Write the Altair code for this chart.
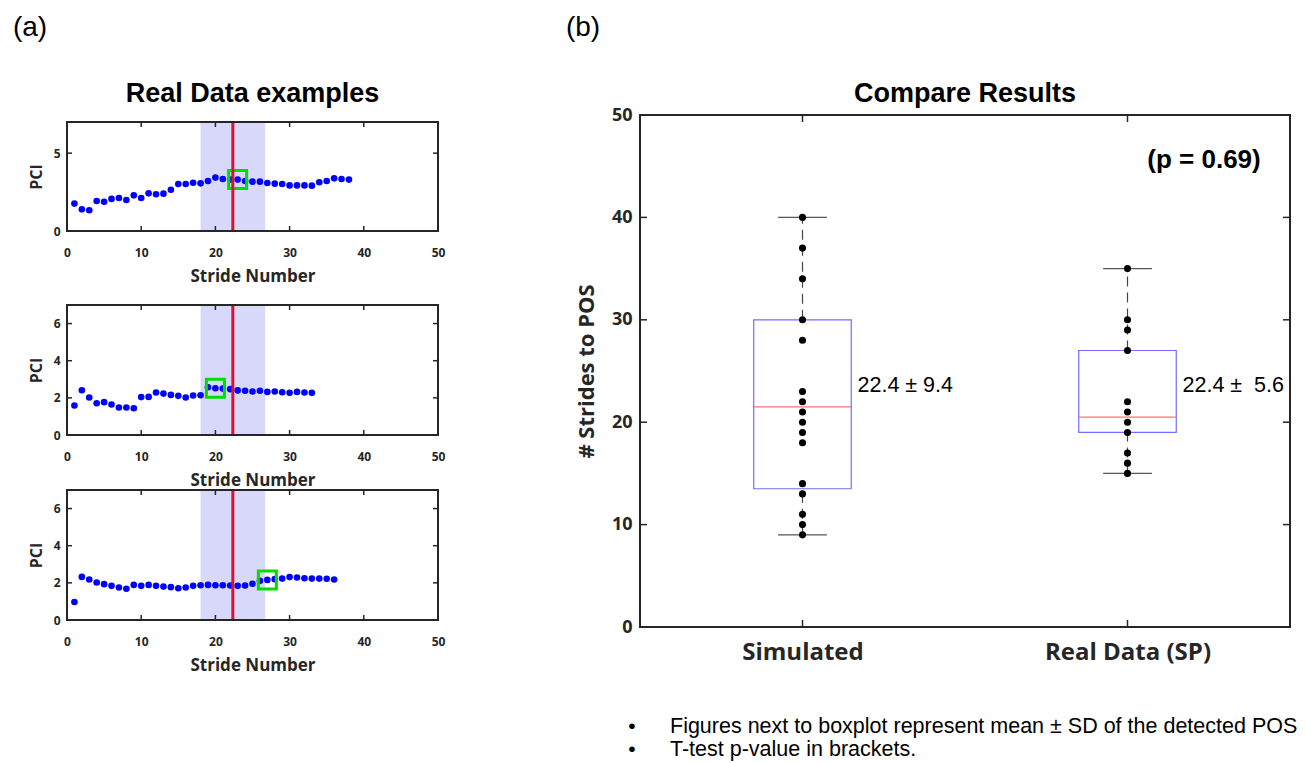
import altair as alt
import pandas as pd

# ---------------- data: (a) Real Data examples ----------------
pci_1 = [1.76, 1.39, 1.33, 1.93, 1.88, 2.06, 2.12, 1.99, 2.29, 2.12, 2.42, 2.36, 2.40,
         2.65, 3.02, 3.02, 3.10, 3.06, 3.21, 3.43, 3.34, 3.30, 3.30, 3.21, 3.17, 3.17,
         3.08, 3.04, 3.02, 2.93, 2.93, 2.93, 2.91, 3.13, 3.21, 3.38, 3.34, 3.30]
pci_2 = [1.59, 2.41, 2.02, 1.71, 1.77, 1.64, 1.48, 1.48, 1.44, 2.04, 2.05, 2.29, 2.23,
         2.16, 2.11, 2.02, 2.13, 2.14, 2.57, 2.52, 2.50, 2.47, 2.40, 2.38, 2.34, 2.38,
         2.32, 2.34, 2.30, 2.27, 2.32, 2.29, 2.27]
pci_3 = [0.97, 2.32, 2.18, 2.02, 1.93, 1.84, 1.75, 1.68, 1.89, 1.84, 1.89, 1.84, 1.80,
         1.77, 1.71, 1.75, 1.84, 1.87, 1.89, 1.87, 1.87, 1.86, 1.84, 1.86, 1.95, 2.11,
         2.16, 2.20, 2.23, 2.31, 2.29, 2.25, 2.23, 2.23, 2.22, 2.18]
pos_stride = [23, 20, 27]
pos_pci = [3.30, 2.52, 2.16]
band_start = 18.0
band_end = 26.7
ref_line = 22.35
x_ticks_left = [0, 10, 20, 30, 40, 50]
y_ticks_panels = [[0, 5], [0, 2, 4, 6], [0, 2, 4, 6]]
x_domain_left = [0, 50]
y_domain_left = [0, 7]

# ---------------- data: (b) Compare Results ----------------
groups = ["Simulated", "Real Data (SP)"]
sim_values = [40, 37, 34, 30, 28, 23, 22, 21, 20, 19, 18, 14, 13, 11, 10, 9]
real_values = [35, 30, 29, 27, 22, 21, 20, 19, 17, 16, 15]
q1 = [13.5, 19]
median = [21.5, 20.5]
q3 = [30, 27]
whisk_lo = [9, 15]
whisk_hi = [40, 35]
means = [22.4, 22.4]
stat_labels = ["22.4 ± 9.4", "22.4 ±\u00a0 5.6"]
y_ticks_right = [0, 10, 20, 30, 40, 50]
y_domain_right = [0, 50]
x_domain_right = [0.5, 2.5]
p_text = "(p = 0.69)"
notes = ["Figures next to boxplot represent mean ± SD of the detected POS",
         "T-test p-value in brackets."]

# ---------------- styles ----------------
AX = "#262626"
BOLD = "Open Sans"
ARIAL = "Liberation Sans"
LEFT_W = 371
RIGHT_W = 650
RIGHT_H = 512


def tick_rules(xt, yt, xd, yd, tx, ty):
    rows = []
    for v in xt:
        rows.append(dict(x=v, x2=v, y=yd[0], y2=yd[0] + ty))
        rows.append(dict(x=v, x2=v, y=yd[1], y2=yd[1] - ty))
    for v in yt:
        rows.append(dict(x=xd[0], x2=xd[0] + tx, y=v, y2=v))
        rows.append(dict(x=xd[1], x2=xd[1] - tx, y=v, y2=v))
    return pd.DataFrame(rows)


def text_layer(txt, x, y, size, weight="normal", align="center", baseline="middle",
               font=ARIAL, color="black"):
    return alt.Chart(pd.DataFrame({"t": [txt]})).mark_text(
        font=font, fontSize=size, fontWeight=weight, align=align, baseline=baseline,
        color=color).encode(text="t:N", x=alt.value(x), y=alt.value(y))


def make_panel(i, pci, height, yrange, xoff, title=None, tag=None):
    if yrange is None:
        ys = alt.Scale(domain=y_domain_left, nice=False, zero=False)
        ftop, fbot = 0, height
    else:
        ys = alt.Scale(domain=y_domain_left, nice=False, zero=False, range=yrange)
        ftop, fbot = yrange[1], yrange[0]
    xs = alt.Scale(domain=x_domain_left, nice=False, zero=False)
    px_per_y = (fbot - ftop) / (y_domain_left[1] - y_domain_left[0])
    px_per_x = LEFT_W / (x_domain_left[1] - x_domain_left[0])

    xaxis = alt.Axis(values=x_ticks_left, title="Stride Number", grid=False, domain=False,
                     ticks=False, tickSize=0, labelFont=BOLD, labelFontWeight="bold",
                     labelFontSize=12, labelColor=AX, labelBaseline="middle",
                     labelPadding=21, labelFlush=False, labelOverlap=False,
                     titleFont=BOLD, titleFontWeight="bold", titleFontSize=17,
                     titleColor=AX, titleY=45, titleBaseline="middle", offset=xoff)
    yaxis = alt.Axis(values=y_ticks_panels[i], title="PCI", grid=False, domain=False,
                     ticks=False, tickSize=0, labelFont=BOLD, labelFontWeight="bold",
                     labelFontSize=12, labelColor=AX, labelPadding=7,
                     labelOverlap=False, titleFont=BOLD, titleFontWeight="bold",
                     titleFontSize=16, titleColor=AX, titleX=-31,
                     titleY=(ftop + fbot) / 2, titleAngle=270, titleBaseline="middle",
                     titleAlign="center")

    def X(f):
        return alt.X(f, scale=xs, axis=xaxis)

    def Y(f):
        return alt.Y(f, scale=ys, axis=yaxis)

    span = pd.DataFrame({"x": [band_start], "x2": [band_end],
                         "y": [y_domain_left[0]], "y2": [y_domain_left[1]]})
    band = alt.Chart(span).mark_rect(color="#d8d8fb").encode(
        x=X("x:Q"), x2="x2", y=Y("y:Q"), y2="y2")

    df = pd.DataFrame({"x": list(range(1, len(pci) + 1)), "y": pci})
    pts = alt.Chart(df).mark_circle(size=44, color="#0000ff", opacity=1).encode(
        x=X("x:Q"), y=Y("y:Q"))

    sq = alt.Chart(pd.DataFrame({"x": [pos_stride[i]], "y": [pos_pci[i]]})).mark_point(
        shape="square", size=324, filled=False, color="#00dd00", strokeWidth=3, opacity=1
    ).encode(x=X("x:Q"), y=Y("y:Q"))

    line_df = pd.DataFrame({"x": [ref_line], "y": [y_domain_left[0]], "y2": [y_domain_left[1]]})
    line = alt.Chart(line_df).mark_rule(color="#e0102f", strokeWidth=3).encode(
        x=X("x:Q"), y=Y("y:Q"), y2="y2")

    frame_df = pd.DataFrame({"x": [x_domain_left[0]], "x2": [x_domain_left[1]],
                             "y": [y_domain_left[0]], "y2": [y_domain_left[1]]})
    frame = alt.Chart(frame_df).mark_rect(fillOpacity=0, stroke=AX, strokeWidth=2).encode(
        x=X("x:Q"), x2="x2", y=Y("y:Q"), y2="y2")

    tdf = tick_rules(x_ticks_left, y_ticks_panels[i], x_domain_left, y_domain_left,
                     5 / px_per_x, 5 / px_per_y)
    ticks = alt.Chart(tdf).mark_rule(color=AX, strokeWidth=1.5).encode(
        x=X("x:Q"), x2="x2", y=Y("y:Q"), y2="y2")

    layers = [band, pts, sq, line, frame, ticks]
    if tag is not None:
        layers.append(text_layer(tag, -37, -87, 28))
    if title is not None:
        layers.append(text_layer(title, LEFT_W / 2, -13.5, 27, weight="bold",
                                 baseline="alphabetic"))
    return alt.layer(*layers).properties(width=LEFT_W, height=height)


p1 = make_panel(0, pci_1, 135, [116, 7], -19, title="Real Data examples", tag="(a)")
p2 = make_panel(1, pci_2, 130, None, 0)
p3 = make_panel(2, pci_3, 130, None, 0)
left = alt.vconcat(p1, p2, p3, spacing=55, bounds="flush")

# ---------------- right: boxplot ----------------
BOX_HALF = 0.15
CAP_HALF = 0.075
pos = [k + 1 for k in range(len(groups))]
box_df = pd.DataFrame({"group": groups, "pos": pos, "q1": q1, "med": median, "q3": q3,
                       "lo": whisk_lo, "hi": whisk_hi, "mean": means, "label": stat_labels})
box_df["bl"] = box_df["pos"] - BOX_HALF
box_df["br"] = box_df["pos"] + BOX_HALF
box_df["cl"] = box_df["pos"] - CAP_HALF
box_df["cr"] = box_df["pos"] + CAP_HALF
pts_df = pd.DataFrame({"pos": [1] * len(sim_values) + [2] * len(real_values),
                       "val": sim_values + real_values})

xs_r = alt.Scale(domain=x_domain_right, nice=False, zero=False)
ys_r = alt.Scale(domain=y_domain_right, nice=False, zero=False)
label_expr = " : ".join(f"datum.value == {p} ? '{g}'" for p, g in zip(pos, groups)) + " : ''"
xaxis_r = alt.Axis(values=pos, labelExpr=label_expr, title="", grid=False, domain=False,
                   ticks=False, tickSize=0, labelFont=BOLD, labelFontWeight="bold",
                   labelFontSize=24, labelColor=AX, labelBaseline="middle",
                   labelPadding=25, labelFlush=False, labelOverlap=False)
yaxis_r = alt.Axis(values=y_ticks_right, title="# Strides to POS", grid=False, domain=False,
                   ticks=False, tickSize=0, labelFont=BOLD, labelFontWeight="bold",
                   labelFontSize=18, labelColor=AX, labelPadding=8, labelOverlap=False,
                   titleFont=BOLD, titleFontWeight="bold", titleFontSize=22,
                   titleColor=AX, titleX=-54, titleY=RIGHT_H / 2, titleAngle=270,
                   titleBaseline="middle", titleAlign="center")


def XR(f):
    return alt.X(f, scale=xs_r, axis=xaxis_r)


def YR(f):
    return alt.Y(f, scale=ys_r, axis=yaxis_r)


frame_r_df = pd.DataFrame({"x": [x_domain_right[0]], "x2": [x_domain_right[1]],
                           "y": [y_domain_right[0]], "y2": [y_domain_right[1]]})
frame_r = alt.Chart(frame_r_df).mark_rect(fillOpacity=0, stroke=AX, strokeWidth=2).encode(
    x=XR("x:Q"), x2="x2", y=YR("y:Q"), y2="y2")

box = alt.Chart(box_df).mark_rect(fillOpacity=0, stroke="#6f6fff", strokeWidth=1.2).encode(
    x=XR("bl:Q"), x2="br", y=YR("q1:Q"), y2="q3")
med = alt.Chart(box_df).mark_rule(color="#ff7070", strokeWidth=1.2).encode(
    x=XR("bl:Q"), x2="br", y=YR("med:Q"))
whisk_up = alt.Chart(box_df).mark_rule(color="#444444", strokeWidth=1.2,
                                       strokeDash=[10, 6]).encode(
    x=XR("pos:Q"), y=YR("q3:Q"), y2="hi")
whisk_dn = alt.Chart(box_df).mark_rule(color="#444444", strokeWidth=1.2,
                                       strokeDash=[10, 6]).encode(
    x=XR("pos:Q"), y=YR("lo:Q"), y2="q1")
cap_hi = alt.Chart(box_df).mark_rule(color="#555555", strokeWidth=1.2).encode(
    x=XR("cl:Q"), x2="cr", y=YR("hi:Q"))
cap_lo = alt.Chart(box_df).mark_rule(color="#555555", strokeWidth=1.2).encode(
    x=XR("cl:Q"), x2="cr", y=YR("lo:Q"))
dots = alt.Chart(pts_df).mark_circle(size=50, color="black", opacity=1).encode(
    x=XR("pos:Q"), y=YR("val:Q"))
stats = alt.Chart(box_df).mark_text(font=ARIAL, fontSize=21.5, align="left", baseline="middle",
                                    dx=55, dy=-12, color="black").encode(
    x=XR("pos:Q"), y=YR("mean:Q"), text="label:N")

px_x_r = RIGHT_W / (x_domain_right[1] - x_domain_right[0])
px_y_r = RIGHT_H / (y_domain_right[1] - y_domain_right[0])
tdf_r = tick_rules(pos, y_ticks_right, x_domain_right, y_domain_right, 7 / px_x_r, 7 / px_y_r)
ticks_r = alt.Chart(tdf_r).mark_rule(color=AX, strokeWidth=1.5).encode(
    x=XR("x:Q"), x2="x2", y=YR("y:Q"), y2="y2")

extra = [
    text_layer(p_text, 564, 45, 26, weight="bold"),
    text_layer("(b)", -57, -87, 28),
    text_layer("Compare Results", RIGHT_W / 2, -13.5, 27, weight="bold",
               baseline="alphabetic"),
]
for k, note in enumerate(notes):
    extra.append(text_layer("•", -8, 612 + 23 * k, 21))
    extra.append(text_layer(note, 30, 612 + 23 * k, 21.5, align="left"))

right = alt.layer(frame_r, box, med, whisk_up, whisk_dn, cap_hi, cap_lo, dots, stats,
                  ticks_r, *extra).properties(width=RIGHT_W, height=RIGHT_H)

chart = alt.hconcat(left, right, spacing=120).properties(
    padding={"left": 4, "top": 6, "right": 5, "bottom": 5}, background="white"
).configure_view(strokeWidth=0, stroke="transparent")

chart.save("out.html", embed_options={"renderer": "svg", "actions": False})
